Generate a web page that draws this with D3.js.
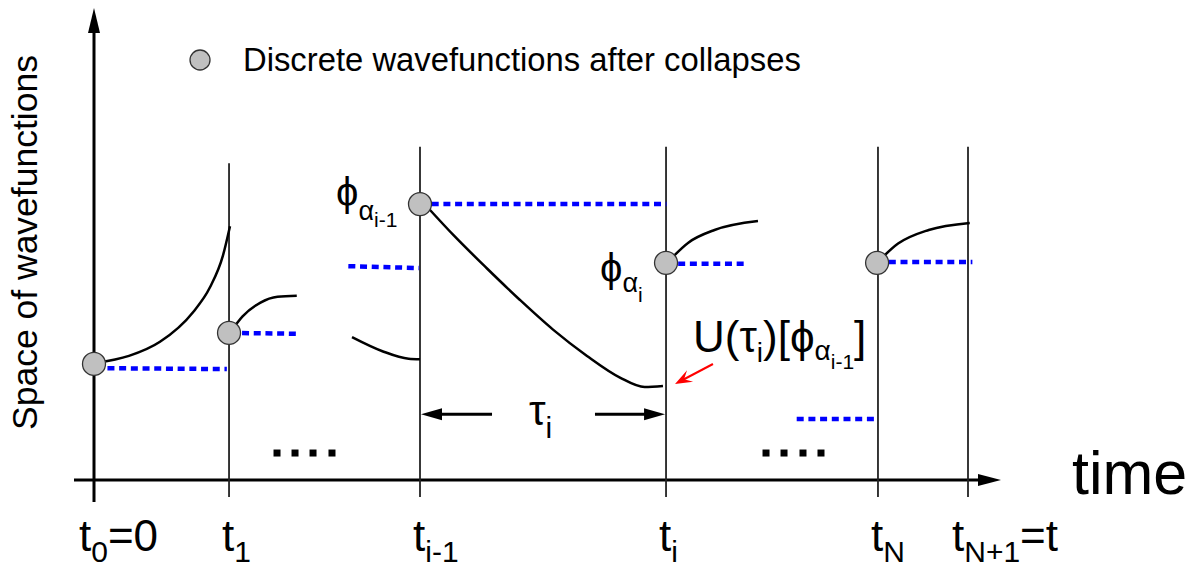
<!DOCTYPE html>
<html><head><meta charset="utf-8">
<script src="https://cdn.jsdelivr.net/npm/d3@7"></script>
<style>
html,body{margin:0;padding:0;background:#fff;}
svg{display:block;font-family:"Liberation Sans",Arial,Helvetica,sans-serif;}
</style></head>
<body>
<svg id="chart" width="1192" height="570"></svg>
<script>
// ---------- data (abstract units: time 0..10, wavefunction space 0..10) ----------
const tickValues = [0, 1.545, 3.73, 6.545, 8.97, 10];
const tickSubs   = ["0", "1", "i-1", "i", "N", "N+1"];
const tickTails  = ["=0", "", "", "", "", "=t"];
const guideTops  = [null, 6.74, 7.09, 7.09, 7.09, 7.09];

const collapseX = [0, 1.545, 3.73, 6.545, 8.96];
const collapseY = [2.47, 3.13, 5.87, 4.62, 4.62];

// blue dotted (projection) segments: [x1, y1, x2, y2]
const projSegments = [
  [0.02, 2.38, 1.52, 2.36],
  [1.56, 3.13, 2.36, 3.11],
  [2.91, 4.55, 3.72, 4.51],
  [3.73, 5.87, 6.55, 5.87],
  [6.55, 4.60, 7.48, 4.60],
  [8.04, 1.30, 8.97, 1.30],
  [8.96, 4.64, 10.05, 4.64]
];

// evolution curves
const curve0 = [[0.02,2.49],[0.40,2.64],[0.755,2.94],[1.133,3.57],[1.327,4.10],[1.476,4.78],[1.556,5.40]];
const curve1 = [[1.556,3.13],[1.70,3.48],[1.90,3.77],[2.10,3.90],[2.32,3.92]];
const curve2 = [[2.952,3.04],[3.30,2.74],[3.60,2.58],[3.73,2.57]];
const curve3 = [[3.764,5.91],[4.108,5.22],[4.497,4.50],[4.874,3.83],[5.252,3.20],[5.641,2.64],[6.018,2.18],[6.30,1.98],[6.51,2.00]];
const curve4 = [[6.567,4.64],[6.80,5.05],[7.10,5.32],[7.597,5.51]];
const curve5 = [[8.959,4.62],[9.20,5.03],[9.55,5.32],[10.02,5.47]];
const curves = [curve0, curve1, curve2, curve3, curve4, curve5];

const ellipsisX = [[2.094, 2.300, 2.506, 2.723], [7.689, 7.895, 8.112, 8.318]];
const ellipsisY = 0.574;

const tauSpan = [3.73, 6.545];
const tauGap = [4.554, 5.732];
const tauY = 1.40;

const redArrow = [[7.082, 2.468], [6.648, 2.043]];

const legendText = "Discrete wavefunctions after collapses";
const yLabel = "Space of wavefunctions";
const xLabel = "time";

// ---------- layout ----------
const svg = d3.select("#chart");
const x = d3.scaleLinear().domain([0, 10]).range([94, 968]);
const y = d3.scaleLinear().domain([0, 10]).range([480, 10]);
const FONT_MAIN = 44, FONT_SUB = 30;
const PHI = "\u03D5";

// axes
svg.append("line").attr("x1", 74).attr("x2", 984).attr("y1", y(0)).attr("y2", y(0))
  .attr("stroke", "#000").attr("stroke-width", 3);
svg.append("path").attr("d", `M1001,${y(0)} L978,${y(0)-6} L978,${y(0)+6} Z`).attr("fill", "#000");
svg.append("line").attr("x1", x(0)).attr("x2", x(0)).attr("y1", 502).attr("y2", 28)
  .attr("stroke", "#000").attr("stroke-width", 3);
svg.append("path").attr("d", `M${x(0)},8 L${x(0)-6},33 L${x(0)+6},33 Z`).attr("fill", "#000");

// guides at collapse times
svg.selectAll("line.guide").data(tickValues.map((v,i)=>({v, top: guideTops[i]})).filter(d=>d.top!==null))
  .enter().append("line").attr("class","guide")
  .attr("x1", d=>x(d.v)).attr("x2", d=>x(d.v))
  .attr("y1", d=>y(d.top)).attr("y2", 497)
  .attr("stroke", "#222").attr("stroke-width", 1.8);

// tick labels
const tl = svg.selectAll("text.tick").data(tickValues).enter().append("text")
  .attr("class","tick").attr("x", (d,i)=>x(d) - 7 - (i===0?8:0) - (i===5?9:0)).attr("y", 551)
  .attr("font-size", FONT_MAIN);
tl.append("tspan").text("t");
tl.append("tspan").attr("font-size", FONT_SUB).attr("dy", 11).text((d,i)=>tickSubs[i]);
tl.append("tspan").attr("dy", -11).text((d,i)=>tickTails[i]);

// blue projections
svg.selectAll("line.proj").data(projSegments).enter().append("line").attr("class","proj")
  .attr("x1", d=>x(d[0])).attr("y1", d=>y(d[1])).attr("x2", d=>x(d[2])).attr("y2", d=>y(d[3]))
  .attr("stroke", "#0000ff").attr("stroke-width", 4.5).attr("stroke-dasharray", "7,4.7");

// curves
const lineGen = d3.line().x(d=>x(d[0])).y(d=>y(d[1])).curve(d3.curveMonotoneX);
svg.selectAll("path.curve").data(curves).enter().append("path").attr("class","curve")
  .attr("d", lineGen).attr("fill","none").attr("stroke","#000").attr("stroke-width", 2.5);

// collapse points
svg.selectAll("circle.collapse").data(collapseX).enter().append("circle").attr("class","collapse")
  .attr("cx", d=>x(d)).attr("cy", (d,i)=>y(collapseY[i])).attr("r", 11.5)
  .attr("fill", "#c0c0c0").attr("stroke", "#333").attr("stroke-width", 1.3);

// ellipsis
ellipsisX.forEach(g => {
  svg.selectAll(null).data(g).enter().append("rect")
    .attr("x", d=>x(d)-3.5).attr("y", y(ellipsisY)-3.5).attr("width", 7).attr("height", 7).attr("fill", "#000");
});

// tau arrows
svg.append("line").attr("x1", x(tauGap[0])).attr("x2", x(tauSpan[0])+18).attr("y1", y(tauY)).attr("y2", y(tauY)).attr("stroke","#000").attr("stroke-width",3);
svg.append("path").attr("d", `M${x(tauSpan[0])+1},${y(tauY)} L${x(tauSpan[0])+22},${y(tauY)-6} L${x(tauSpan[0])+22},${y(tauY)+6} Z`).attr("fill","#000");
svg.append("line").attr("x1", x(tauGap[1])).attr("x2", x(tauSpan[1])-18).attr("y1", y(tauY)).attr("y2", y(tauY)).attr("stroke","#000").attr("stroke-width",3);
svg.append("path").attr("d", `M${x(tauSpan[1])-1},${y(tauY)} L${x(tauSpan[1])-22},${y(tauY)-6} L${x(tauSpan[1])-22},${y(tauY)+6} Z`).attr("fill","#000");

const tauT = svg.append("text").attr("x", 529).attr("y", 425).attr("font-size", 42);
tauT.append("tspan").text("τ");
tauT.append("tspan").attr("font-size", 30).attr("dy", 13).text("i");

// red arrow
{
  const [p0, p1] = redArrow;
  const x0 = x(p0[0]), y0 = y(p0[1]), x1 = x(p1[0]), y1 = y(p1[1]);
  const ang = Math.atan2(y1 - y0, x1 - x0);
  svg.append("line").attr("x1", x0).attr("y1", y0).attr("x2", x1 - 8*Math.cos(ang)).attr("y2", y1 - 8*Math.sin(ang))
    .attr("stroke", "#ff0000").attr("stroke-width", 2);
  const L = 17, W = 6.5;
  const bx = x1 - L*Math.cos(ang), by = y1 - L*Math.sin(ang);
  const nx = -Math.sin(ang), ny = Math.cos(ang);
  const mx = x1 - 0.6*L*Math.cos(ang), my = y1 - 0.6*L*Math.sin(ang);
  svg.append("path").attr("d", `M${x1},${y1} L${bx+nx*W},${by+ny*W} L${mx},${my} L${bx-nx*W},${by-ny*W} Z`).attr("fill", "#ff0000");
}

// phi labels
function addLabel(xp, yp, parts) {
  const t = svg.append("text").attr("x", xp).attr("y", yp);
  parts.forEach(p => t.append("tspan").attr("font-size", p[1]).attr("dy", p[2]).text(p[0]));
  return t;
}
addLabel(336, 206, [[PHI, 40, 0], ["α", 27, 14], ["i-1", 21, 7]]);
addLabel(600, 282, [[PHI, 40, 0], ["α", 27, 10], ["i", 21, 10]]);
addLabel(693, 352, [["U(τ", 44, 0], ["i", 28, 10], [")[" + PHI, 44, -10], ["α", 28, 8], ["i-1", 21, 9], ["]", 44, -17]]);

// legend
svg.append("circle").attr("cx", x(1.213)).attr("cy", y(8.936)).attr("r", 10)
  .attr("fill", "#c0c0c0").attr("stroke", "#333").attr("stroke-width", 1.3);
svg.append("text").attr("x", 243).attr("y", 71).attr("font-size", 32.8).text(legendText);

// axis titles
svg.append("text").attr("transform", "translate(37,430) rotate(-90)").attr("font-size", 35.5).text(yLabel);
svg.append("text").attr("x", 1072).attr("y", 494).attr("font-size", 61).text(xLabel);
</script>
</body></html>
